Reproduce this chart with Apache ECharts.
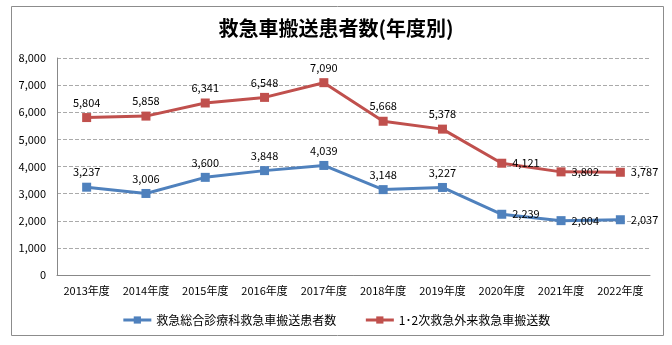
<!DOCTYPE html>
<html><head><meta charset="utf-8">
<script src="https://cdn.jsdelivr.net/npm/echarts@6/dist/echarts.min.js"></script>
<style>html,body{margin:0;padding:0;background:#fff}#c{width:672px;height:345px}</style>
</head><body><div id="c"></div>
<script>
const categories = ['2013年度','2014年度','2015年度','2016年度','2017年度','2018年度','2019年度','2020年度','2021年度','2022年度'];
const blueName = '救急総合診療科救急車搬送患者数';
const redName = '1･2次救急外来救急車搬送数';
const blueValues = [3237,3006,3600,3848,4039,3148,3227,2239,2004,2037];
const redValues = [5804,5858,6341,6548,7090,5668,5378,4121,3802,3787];
const yTicks = {min:0, max:8000, interval:1000};

const font = '"Noto Sans CJK JP", sans-serif';
function labelled(vals){
  return vals.map((v,i)=> i>=7 ? {value:v,label:{position:'right',distance:6}} : v);
}
const chart = echarts.init(document.getElementById('c'));
chart.setOption({
  animation:false,
  graphic:[{type:'rect',shape:{x:11.5,y:6.5,width:652,height:329},style:{fill:'none',stroke:'#8c8c8c',lineWidth:1}}],
  title:{text:'救急車搬送患者数(年度別)',left:'center',top:13,textStyle:{fontFamily:font,fontSize:20,fontWeight:'bold',color:'#000'}},
  grid:{left:57,right:22,top:58,bottom:70},
  legend:{top:309,left:'center',itemWidth:28,itemHeight:9,itemGap:28,textStyle:{fontFamily:font,fontSize:12,color:'#000'},
    lineStyle:{width:3},data:[blueName,redName]},
  xAxis:{type:'category',data:categories,boundaryGap:true,axisLine:{lineStyle:{color:'#888'}},axisTick:{show:false},
    axisLabel:{fontFamily:font,fontSize:11,color:'#000',margin:10,interval:0}},
  yAxis:{type:'value',min:yTicks.min,max:yTicks.max,interval:yTicks.interval,
    axisLine:{show:true,lineStyle:{color:'#888'}},axisTick:{show:false},
    axisLabel:{fontFamily:font,fontSize:11,color:'#000',margin:11,formatter:v=>v.toLocaleString('en-US')},
    splitLine:{lineStyle:{type:'dashed',color:'#aaa'}}},
  series:[
    {name:blueName,type:'line',data:labelled(blueValues),symbol:'rect',symbolSize:9,
     lineStyle:{width:3,color:'#4F81BD'},itemStyle:{color:'#4F81BD'},
     label:{show:true,position:'top',distance:5,fontFamily:font,fontSize:11,color:'#000',formatter:p=>p.value.toLocaleString('en-US')}},
    {name:redName,type:'line',data:labelled(redValues),symbol:'rect',symbolSize:9,
     lineStyle:{width:3,color:'#C0504D'},itemStyle:{color:'#C0504D'},
     label:{show:true,position:'top',distance:5,fontFamily:font,fontSize:11,color:'#000',formatter:p=>p.value.toLocaleString('en-US')}}
  ]
});
</script></body></html>
